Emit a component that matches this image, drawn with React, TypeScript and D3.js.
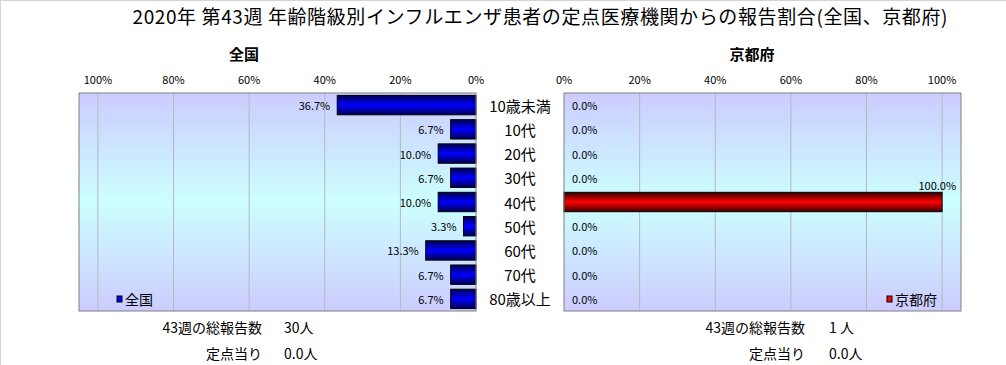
import React from "react";
import * as d3 from "d3";

const categories = ["10歳未満", "10代", "20代", "30代", "40代", "50代", "60代", "70代", "80歳以上"];
const nationalValues = [36.7, 6.7, 10.0, 6.7, 10.0, 3.3, 13.3, 6.7, 6.7];
const kyotoValues = [0, 0, 0, 0, 100, 0, 0, 0, 0];
const tickValues = [0, 20, 40, 60, 80, 100];
const titleText = "2020年 第43週 年齢階級別インフルエンザ患者の定点医療機関からの報告割合(全国、京都府)";
const panelTitles = ["全国", "京都府"];
const footerLabels = ["43週の総報告数", "定点当り"];
const nationalFooter = ["30人", "0.0人"];
const kyotoFooter = ["1 人", "0.0人"];

const W = 1006;
const H = 365;
const FONT = "'Noto Sans CJK JP', 'Noto Sans', sans-serif";

export default function App() {
  const top = 93;
  const bottom = 311;
  const xL = d3.scaleLinear().domain([0, 105]).range([476, 79]);
  const xR = d3.scaleLinear().domain([0, 105]).range([564, 961]);
  const y = d3.scaleBand<string>().domain(categories).range([top, bottom]).paddingInner(0.2).paddingOuter(0.1);
  const bw = y.bandwidth();
  const fmt = (v: number) => d3.format(".1f")(v) + "%";

  const plotL = { x0: xL(105), x1: xL(0) };
  const plotR = { x0: xR(0), x1: xR(105) };

  return (
    <svg width={W} height={H} style={{ position: "absolute", left: 0, top: 0, background: "#fff" }} fontFamily={FONT}>
      <defs>
        <linearGradient id="bg" x1="0" y1="0" x2="0" y2="1">
          <stop offset="0" stopColor="#CCCCFF" />
          <stop offset="0.5" stopColor="#CCFFFF" />
          <stop offset="1" stopColor="#CCCCFF" />
        </linearGradient>
        <linearGradient id="blueBar" x1="0" y1="0" x2="0" y2="1">
          <stop offset="0" stopColor="#000050" />
          <stop offset="0.5" stopColor="#0000FF" />
          <stop offset="1" stopColor="#000050" />
        </linearGradient>
        <linearGradient id="redBar" x1="0" y1="0" x2="0" y2="1">
          <stop offset="0" stopColor="#300000" />
          <stop offset="0.5" stopColor="#FF0000" />
          <stop offset="1" stopColor="#400000" />
        </linearGradient>
      </defs>
      <rect x={0} y={0} width={W} height={H} fill="#fff" />
      <line x1={0} y1={0.5} x2={W} y2={0.5} stroke="#d4d4d4" />
      <line x1={0.5} y1={0} x2={0.5} y2={H} stroke="#d4d4d4" />

      <text x={540} y={15} textAnchor="middle" dominantBaseline="central" fontSize={19} textLength={815} lengthAdjust="spacing" fill="#000">
        {titleText}
      </text>

      <text x={244} y={53} textAnchor="middle" dominantBaseline="central" fontSize={15} fontWeight="bold">{panelTitles[0]}</text>
      <text x={752} y={53} textAnchor="middle" dominantBaseline="central" fontSize={15} fontWeight="bold">{panelTitles[1]}</text>

      {/* left panel */}
      <rect x={plotL.x0} y={top} width={plotL.x1 - plotL.x0} height={bottom - top} fill="url(#bg)" />
      {tickValues.filter((t) => t > 0).map((t) => (
        <line key={"gl" + t} x1={xL(t)} x2={xL(t)} y1={top} y2={bottom} stroke="#b8b8b8" />
      ))}
      {tickValues.map((t) => (
        <text key={"tl" + t} x={xL(t)} y={79} textAnchor="middle" dominantBaseline="central" fontSize={11}>{t + "%"}</text>
      ))}
      {nationalValues.map((v, i) => (
        <rect key={"bl" + i} x={xL(v)} y={y(categories[i])!} width={xL(0) - xL(v)} height={bw} fill="url(#blueBar)" stroke="#000" strokeWidth={1} />
      ))}
      <rect x={plotL.x0} y={top} width={plotL.x1 - plotL.x0} height={bottom - top} fill="none" stroke="#808080" />
      {nationalValues.map((v, i) => (
        <text key={"vl" + i} x={xL(v) - 7} y={y(categories[i])! + bw / 2} textAnchor="end" dominantBaseline="central" fontSize={11}>{fmt(v)}</text>
      ))}
      <rect x={117} y={296} width={5} height={6} fill="#0000FF" stroke="#000" strokeWidth={1} />
      <text x={125} y={299} dominantBaseline="central" fontSize={14}>{panelTitles[0]}</text>

      {/* category labels */}
      {categories.map((c) => (
        <text key={"c" + c} x={520} y={y(c)! + bw / 2} textAnchor="middle" dominantBaseline="central" fontSize={15}>{c}</text>
      ))}

      {/* right panel */}
      <rect x={plotR.x0} y={top} width={plotR.x1 - plotR.x0} height={bottom - top} fill="url(#bg)" />
      {tickValues.filter((t) => t > 0).map((t) => (
        <line key={"gr" + t} x1={xR(t)} x2={xR(t)} y1={top} y2={bottom} stroke="#b8b8b8" />
      ))}
      {tickValues.map((t) => (
        <text key={"tr" + t} x={xR(t)} y={79} textAnchor="middle" dominantBaseline="central" fontSize={11}>{t + "%"}</text>
      ))}
      {kyotoValues.map((v, i) =>
        v > 0 ? (
          <rect key={"br" + i} x={xR(0)} y={y(categories[i])!} width={xR(v) - xR(0)} height={bw} fill="url(#redBar)" stroke="#000" strokeWidth={1} />
        ) : null
      )}
      <rect x={plotR.x0} y={top} width={plotR.x1 - plotR.x0} height={bottom - top} fill="none" stroke="#808080" />
      {kyotoValues.map((v, i) => {
        const fits = xR(v) + 8 + 40 < plotR.x1;
        return fits ? (
          <text key={"vr" + i} x={xR(v) + 8} y={y(categories[i])! + bw / 2} dominantBaseline="central" fontSize={11}>{fmt(v)}</text>
        ) : (
          <text key={"vr" + i} x={xR(v) + 14} y={y(categories[i])! - 7} textAnchor="end" dominantBaseline="central" fontSize={11}>{fmt(v)}</text>
        );
      })}
      <rect x={887} y={296} width={5} height={6} fill="#FF0000" stroke="#000" strokeWidth={1} />
      <text x={895} y={299} dominantBaseline="central" fontSize={14}>{panelTitles[1]}</text>

      {/* footers */}
      {footerLabels.map((f, i) => (
        <g key={"f" + i}>
          <text x={262} y={327 + i * 26} textAnchor="end" dominantBaseline="central" fontSize={14}>{f}</text>
          <text x={284} y={327 + i * 26} dominantBaseline="central" fontSize={14}>{nationalFooter[i]}</text>
          <text x={805} y={327 + i * 26} textAnchor="end" dominantBaseline="central" fontSize={14}>{f}</text>
          <text x={829} y={327 + i * 26} dominantBaseline="central" fontSize={14}>{kyotoFooter[i]}</text>
        </g>
      ))}
    </svg>
  );
}
